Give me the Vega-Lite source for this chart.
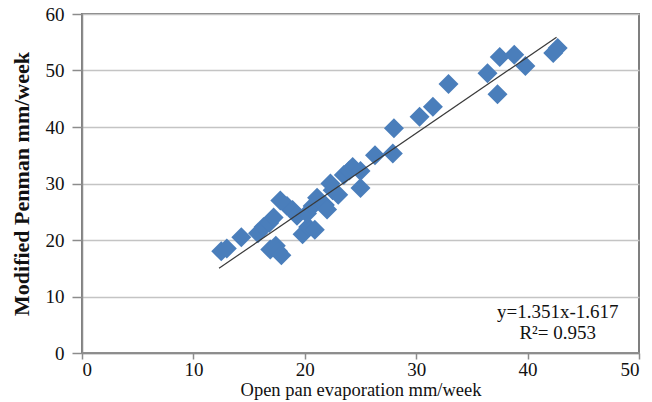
{
  "$schema": "https://vega.github.io/schema/vega-lite/v6.json",
  "autosize": "none",
  "width": 557,
  "height": 339,
  "padding": {"left": 82, "top": 14, "right": 13, "bottom": 49},
  "background": "white",
  "config": {
    "font": "Liberation Serif",
    "view": {"stroke": "#7f7f7f", "strokeWidth": 2},
    "axis": {
      "labelFont": "Liberation Serif",
      "titleFont": "Liberation Serif",
      "labelFontSize": 19,
      "labelColor": "#111111",
      "titleColor": "#111111",
      "domainColor": "#8c8c8c",
      "domainWidth": 1.5,
      "tickColor": "#8c8c8c",
      "tickWidth": 1.5
    }
  },
  "datasets": {
    "obs": [
      {"pan": 12.5, "penman": 18.0}, {"pan": 13.0, "penman": 18.5},
      {"pan": 14.3, "penman": 20.5}, {"pan": 15.8, "penman": 21.2},
      {"pan": 16.3, "penman": 22.3}, {"pan": 16.8, "penman": 23.0},
      {"pan": 17.2, "penman": 24.0}, {"pan": 16.9, "penman": 18.3},
      {"pan": 17.4, "penman": 19.0}, {"pan": 17.6, "penman": 18.0},
      {"pan": 17.9, "penman": 17.3}, {"pan": 17.8, "penman": 27.0},
      {"pan": 18.4, "penman": 26.0}, {"pan": 18.9, "penman": 25.3},
      {"pan": 19.3, "penman": 24.3}, {"pan": 19.8, "penman": 21.0},
      {"pan": 20.3, "penman": 22.3}, {"pan": 20.9, "penman": 21.8},
      {"pan": 20.2, "penman": 24.7}, {"pan": 20.7, "penman": 26.0},
      {"pan": 21.1, "penman": 27.5}, {"pan": 21.8, "penman": 26.2},
      {"pan": 22.0, "penman": 25.4}, {"pan": 22.5, "penman": 28.8},
      {"pan": 22.3, "penman": 30.0}, {"pan": 23.0, "penman": 28.0},
      {"pan": 23.5, "penman": 31.5}, {"pan": 24.0, "penman": 32.3},
      {"pan": 24.3, "penman": 32.9}, {"pan": 25.0, "penman": 32.2},
      {"pan": 25.0, "penman": 29.2}, {"pan": 26.3, "penman": 35.0},
      {"pan": 27.9, "penman": 35.3}, {"pan": 28.0, "penman": 39.8},
      {"pan": 30.3, "penman": 41.8}, {"pan": 31.5, "penman": 43.6},
      {"pan": 32.9, "penman": 47.6}, {"pan": 36.4, "penman": 49.5},
      {"pan": 37.3, "penman": 45.8}, {"pan": 37.5, "penman": 52.4},
      {"pan": 38.8, "penman": 52.8}, {"pan": 39.8, "penman": 50.8},
      {"pan": 42.3, "penman": 53.1}, {"pan": 42.7, "penman": 54.0}
    ],
    "fit": [
      {"x1": 12.3, "y1": 15.0, "x2": 42.6, "y2": 55.9}
    ],
    "note": [
      {"pan": 42.7, "penman": 7.3, "label": "y=1.351x-1.617"},
      {"pan": 42.7, "penman": 3.5, "label": "R²= 0.953"}
    ]
  },
  "layer": [
    {
      "data": {"name": "obs"},
      "mark": {"type": "point", "shape": "diamond", "filled": true, "size": 400, "color": "#4a7ebb", "opacity": 1},
      "encoding": {
        "x": {
          "field": "pan", "type": "quantitative",
          "scale": {"domain": [0, 50], "nice": false},
          "axis": {"values": [0, 10, 20, 30, 40, 50], "grid": false, "tickSize": 6, "labelPadding": 1, "title": "Open pan evaporation mm/week", "titleFontSize": 18.5, "titleFontWeight": "normal", "titlePadding": 1}
        },
        "y": {
          "field": "penman", "type": "quantitative",
          "scale": {"domain": [0, 60], "nice": false},
          "axis": {"values": [0, 10, 20, 30, 40, 50, 60], "grid": true, "gridColor": "#c4c4c4", "gridWidth": 1.5, "tickSize": 10, "labelPadding": 8, "title": "Modified Penman mm/week", "titleFontSize": 22, "titleFontWeight": "bold", "titleX": -54, "titleBaseline": "alphabetic"}
        }
      }
    },
    {
      "data": {"name": "fit"},
      "mark": {"type": "rule", "color": "#3a3a3a", "strokeWidth": 1.2},
      "encoding": {
        "x": {"field": "x1", "type": "quantitative"},
        "y": {"field": "y1", "type": "quantitative"},
        "x2": {"field": "x2"},
        "y2": {"field": "y2"}
      }
    },
    {
      "data": {"name": "note"},
      "mark": {"type": "text", "font": "Liberation Serif", "fontSize": 19, "color": "#111111", "align": "center", "baseline": "middle"},
      "encoding": {
        "x": {"field": "pan", "type": "quantitative"},
        "y": {"field": "penman", "type": "quantitative"},
        "text": {"field": "label"}
      }
    }
  ]
}
